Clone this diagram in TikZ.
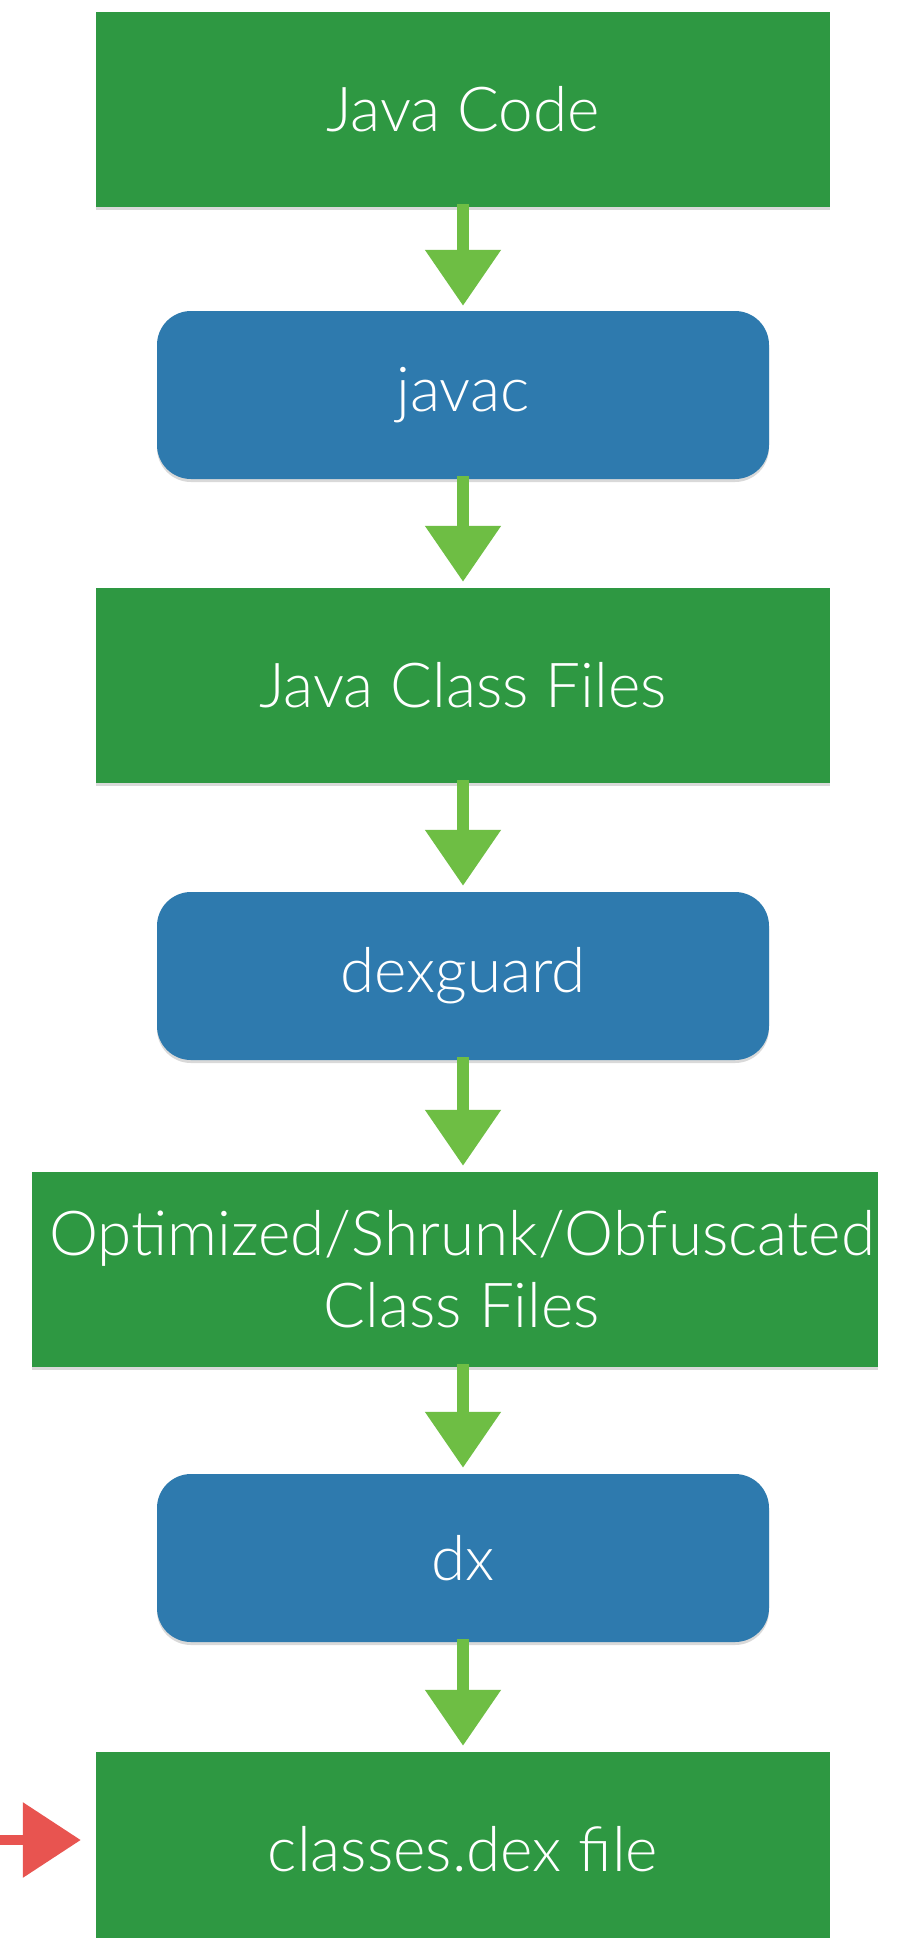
\documentclass[tikz,border=0pt]{standalone}
\usepackage{fontspec}
\setmainfont{Lato}[UprightFont=* Light]
\usetikzlibrary{arrows.meta,shadows}
\definecolor{boxgreen}{RGB}{46,152,66}
\definecolor{boxblue}{RGB}{46,122,174}
\definecolor{arrgreen}{RGB}{110,190,68}
\definecolor{arrred}{RGB}{232,84,80}
\tikzset{
  basebox/.style={inner sep=0pt, text=white, font=\fontsize{62}{72}\selectfont, align=center,
    drop shadow={shadow xshift=0pt, shadow yshift=-3pt, opacity=0.15, fill=black}},
  greenbox/.style={basebox, fill=boxgreen, minimum width=734pt, minimum height=195pt},
  bluebox/.style={basebox, fill=boxblue, rounded corners=34pt, minimum width=612pt, minimum height=168pt},
  flowarrow/.style={draw=arrgreen, line width=12pt, -{Triangle[width=73pt,length=56pt]}},
  markarrow/.style={draw=arrred, line width=10pt, -{Triangle[width=73pt,length=58pt]}}
}
\begin{document}
\begin{tikzpicture}[x=1pt,y=-1pt]
\useasboundingbox (0,0) rectangle (897,1938);
\clip (0,0) rectangle (897,1938);
\fill[white] (0,0) rectangle (897,1938);
\node[greenbox] (jc) at (463,109.5) {Java Code};
\node[bluebox] (javac) at (463,395) {javac};
\node[greenbox] (jcf) at (463,685.5) {Java Class Files};
\node[bluebox] (dexg) at (463,976) {dexguard};
\node[greenbox, minimum width=846pt] (opt) at (455,1269.5) {\hspace*{14pt}Optimized/Shrunk/Obfuscated\\\hspace*{14pt}Class Files};
\node[bluebox] (dx) at (463,1558) {dx};
\node[greenbox] (cls) at (463,1849.5) {classes.dex file};
\coordinate (redstart) at (0,1840);
\draw[flowarrow] ([yshift=3pt]jc.south) -- ([yshift=5pt]javac.north);
\draw[flowarrow] ([yshift=3pt]javac.south) -- ([yshift=6pt]jcf.north);
\draw[flowarrow] ([yshift=3pt]jcf.south) -- ([yshift=6pt]dexg.north);
\draw[flowarrow] ([yshift=3pt]dexg.south) -- ([yshift=6pt]dexg.south |- opt.north);
\draw[flowarrow] ([yshift=3pt]dx.north |- opt.south) -- ([yshift=6pt]dx.north);
\draw[flowarrow] ([yshift=3pt]dx.south) -- ([yshift=6pt]cls.north);
\draw[markarrow] (redstart) -- ([xshift=-15pt,yshift=9.5pt]cls.west);
\end{tikzpicture}
\end{document}
